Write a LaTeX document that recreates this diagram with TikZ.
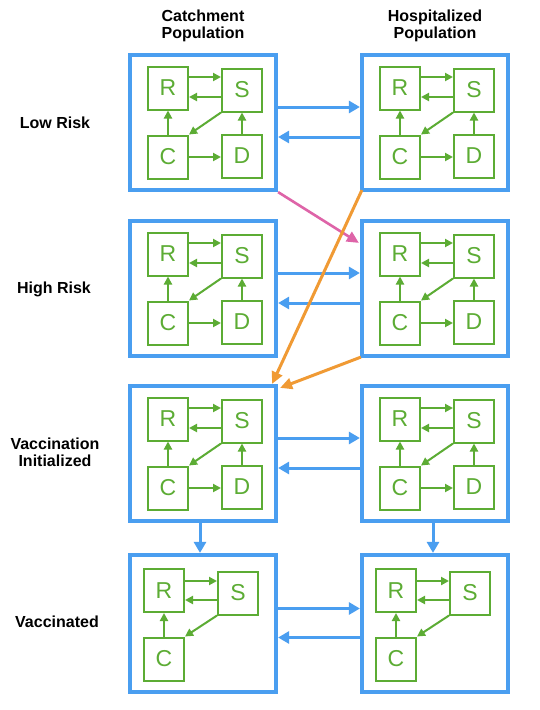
\documentclass[tikz,border=0pt]{standalone}
\usepackage{fontspec}
\setmainfont{Liberation Sans}
\usetikzlibrary{arrows.meta,calc}
\definecolor{gr}{RGB}{92,172,52}
\definecolor{bl}{RGB}{74,158,240}
\definecolor{pk}{RGB}{222,100,168}
\definecolor{orng}{RGB}{240,154,52}
\tikzset{
  bigbox/.style={draw=bl, line width=4.2pt, minimum width=146pt, minimum height=135pt, inner sep=0pt},
  sbox/.style={draw=gr, line width=2pt, minimum width=40pt, minimum height=43pt, inner sep=0pt, text=gr, font=\fontsize{23}{23}\selectfont},
  garr/.style={draw=gr, line width=2pt, -{Triangle[length=8pt,width=8pt]}},
  barr/.style={draw=bl, line width=3pt, -{Triangle[length=11pt,width=12pt]}},
  parr/.style={draw=pk, line width=2.6pt, -{Triangle[length=12pt,width=11pt]}},
  oarr/.style={draw=orng, line width=3pt, -{Triangle[length=12pt,width=11pt]}},
  lab/.style={font=\bfseries\fontsize{16}{17}\selectfont, align=center, inner sep=0pt}
}
\newcommand\sirdbox[3]{%
  \node[bigbox] (#1) at (#2+73,#3+67.5) {};
  \node[sbox] (#1R) at (#2+38,#3+33) {R};
  \node[sbox] (#1S) at (#2+112,#3+35) {S};
  \node[sbox] (#1C) at (#2+38,#3+102) {C};
  \node[sbox] (#1D) at (#2+112,#3+101) {D};
  \draw[garr] ($(#1R.east)+(0,-11)$) -- ($(#1S.west)+(0,-13)$);
  \draw[garr] ($(#1S.west)+(0,7)$) -- ($(#1R.east)+(0,9)$);
  \draw[garr] (#1C.north) -- (#1R.south);
  \draw[garr] (#1D.north) -- (#1S.south);
  \draw[garr] (#1S.south west) -- (#1C.north east);
  \draw[garr] (#1C.east) -- (#1C.east -| #1D.west);
}
\newcommand\sirbox[3]{%
  \node[bigbox, minimum height=137pt] (#1) at (#2+73,#3+68.5) {};
  \node[sbox] (#1R) at (#2+34,#3+35.5) {R};
  \node[sbox] (#1S) at (#2+108,#3+38) {S};
  \node[sbox] (#1C) at (#2+34,#3+104) {C};
  \draw[garr] ($(#1R.east)+(0,-9.5)$) -- ($(#1S.west)+(0,-12)$);
  \draw[garr] ($(#1S.west)+(0,7)$) -- ($(#1R.east)+(0,9.5)$);
  \draw[garr] (#1C.north) -- (#1R.south);
  \draw[garr] (#1S.south west) -- (#1C.north east);
}
\begin{document}
\begin{tikzpicture}[x=1pt,y=-1pt]
\useasboundingbox[fill=white] (0,0) rectangle (540,710);
% headings
\node[lab] (hc) at (203,26) {Catchment\\Population};
\node[lab] (hh) at (435,26) {Hospitalized\\Population};
% row labels
\node[lab] (l1) at (55,123) {Low Risk};
\node[lab] (l2) at (54,289) {High Risk};
\node[lab] (l3) at (55,452) {Vaccination\\Initialized};
\node[lab] (l4) at (57,622) {Vaccinated};
% boxes
\sirdbox{A}{130}{55}
\sirdbox{B}{362}{55}
\sirdbox{E}{130}{221}
\sirdbox{F}{362}{221}
\sirdbox{G}{130}{386}
\sirdbox{K}{362}{386}
\sirbox{M}{130}{555}
\sirbox{N}{362}{555}
% horizontal arrows
\draw[barr] ($(A.east)+(0,-15.5)$) -- ($(B.west)+(0,-15.5)$);
\draw[barr] ($(B.west)+(0,14.5)$) -- ($(A.east)+(0,14.5)$);
\draw[barr] ($(E.east)+(0,-15.5)$) -- ($(F.west)+(0,-15.5)$);
\draw[barr] ($(F.west)+(0,14.5)$) -- ($(E.east)+(0,14.5)$);
\draw[barr] ($(G.east)+(0,-15.5)$) -- ($(K.west)+(0,-15.5)$);
\draw[barr] ($(K.west)+(0,14.5)$) -- ($(G.east)+(0,14.5)$);
\draw[barr] ($(M.east)+(0,-15)$) -- ($(N.west)+(0,-15)$);
\draw[barr] ($(N.west)+(0,14)$) -- ($(M.east)+(0,14)$);
% vertical arrows
\draw[barr] ($(G.south)+(-3,0)$) -- ($(M.north)+(-3,0)$);
\draw[barr] ($(K.south)+(-2,0)$) -- ($(N.north)+(-2,0)$);
% diagonal arrows
\draw[parr] (A.south east) -- ($(F.north west)+(-1,24)$);
\draw[oarr] ($(B.south west)+(2,-2)$) -- ($(G.north east)+(-6,0)$);
\draw[oarr] ($(F.south west)+(1,-1)$) -- ($(G.north east)+(2,4)$);
\end{tikzpicture}
\end{document}
